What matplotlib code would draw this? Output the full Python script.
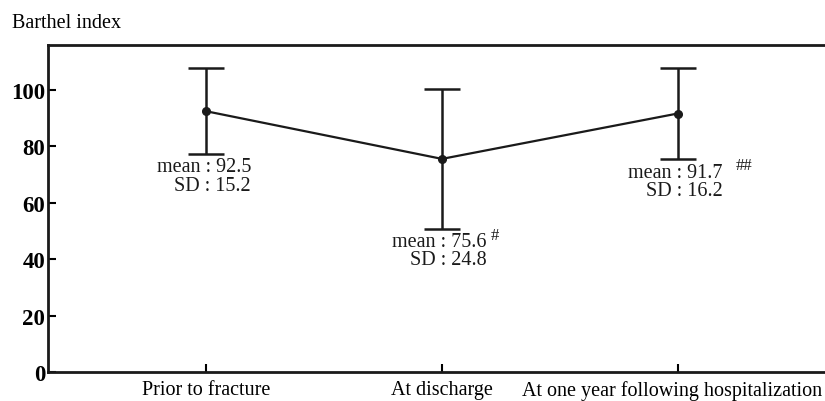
import matplotlib
matplotlib.use("Agg")
import matplotlib.pyplot as plt
from matplotlib.transforms import ScaledTranslation

categories = ["Prior to fracture", "At discharge", "At one year following hospitalization"]
means = [92.5, 75.6, 91.7]
sds = [15.2, 24.8, 16.2]
marks = ["", "#", "##"]
yticks = [0, 20, 40, 60, 80, 100]

plt.rcParams['font.family'] = ['Liberation Serif', 'DejaVu Serif']

fig = plt.figure(figsize=(8.25, 4.02), dpi=100)
ax = fig.add_axes([48/825, 29/402, 1 - 48/825 + 0.001, (373-46)/402])

x = list(range(len(categories)))
ax.errorbar(x, means, yerr=sds, color='#1a1a1a', lw=1.6, capsize=13, capthick=1.8,
            elinewidth=1.8, marker='o', markersize=5.5, zorder=3)

mark_dx = {"#": 0.205, "##": 0.245}
for xi, m, s, mk in zip(x, means, sds, marks):
    ax.text(xi + 0.19, m - s - 1.2, f"mean : {m}\nSD : {s}", ha='right', va='top',
            multialignment='right', fontsize=14.5, linespacing=0.95, color='#1a1a1a')
    if mk:
        ax.text(xi + mark_dx[mk], m - s + 0.8, mk, ha='left', va='top', fontsize=12,
                color='#1a1a1a')

ax.set_xlim(-0.671, 2.628)
ax.set_ylim(0, 116)
ax.set_xticks(x)
ax.set_xticklabels(categories, fontsize=14.5)
ax.set_yticks(yticks)
ax.set_yticklabels([str(t) for t in yticks], fontsize=16.5, fontweight='bold')
ax.tick_params(direction='in', length=6, width=1.5, pad=2)
ax.tick_params(axis='x', pad=5.5)
for sp in ['left', 'bottom', 'top']:
    ax.spines[sp].set_linewidth(2)
    ax.spines[sp].set_color('#1a1a1a')
ax.spines['right'].set_visible(False)

last = ax.get_xticklabels()[-1]
last.set_transform(last.get_transform() + ScaledTranslation(-6/100, 0, fig.dpi_scale_trans))

fig.text(12/825, 1 - 24/402, "Barthel index", fontsize=14.5, va='center', ha='left')

fig.savefig("out.png", dpi=100)
